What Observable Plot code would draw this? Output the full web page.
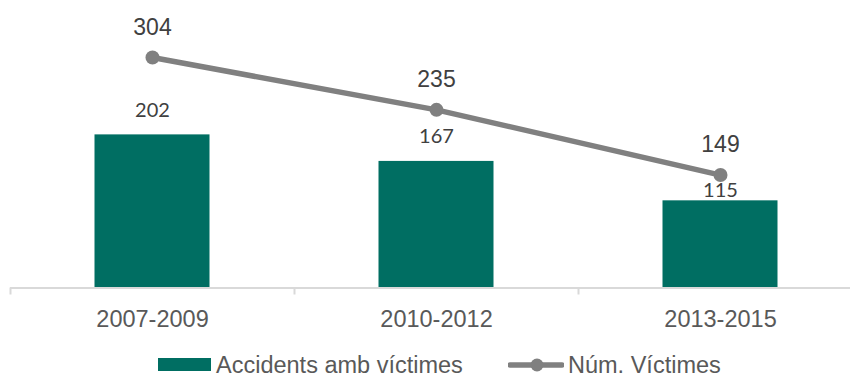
<!DOCTYPE html>
<html>
<head>
<meta charset="utf-8">
<script src="https://cdn.jsdelivr.net/npm/d3@7"></script>
<script src="https://cdn.jsdelivr.net/npm/@observablehq/plot@0.6"></script>
<style>
  html, body { margin: 0; padding: 0; background: white; }
  #wrap { position: relative; width: 850px; height: 378px; overflow: hidden; font-family: "Liberation Sans", Arial, sans-serif; }
  #chart svg { display: block; }
  .lg { position: absolute; }
  .lgtext { font-size: 23.5px; line-height: 20px; height: 20px; color: #595959; white-space: nowrap; }
</style>
</head>
<body>
<div id="wrap">
  <div id="chart"></div>
  <div class="lg" style="left:158px; top:358px; width:53px; height:13px; background:#006E62;"></div>
  <div class="lg lgtext" style="left:216px; top:354.5px;">Accidents amb víctimes</div>
  <svg class="lg" style="left:508px; top:357px;" width="56" height="16">
    <line x1="2" y1="8" x2="54" y2="8" stroke="#808080" stroke-width="5.5" stroke-linecap="round"/>
    <circle cx="29" cy="8" r="6.5" fill="#808080"/>
  </svg>
  <div class="lg lgtext" style="left:568px; top:354.5px;">Núm. Víctimes</div>
</div>
<script>
const categories = ["2007-2009", "2010-2012", "2013-2015"];
const accidents = [202, 167, 115];
const victims = [304, 235, 149];

const data = categories.map((c, i) => ({period: c, accidents: accidents[i], victims: victims[i]}));

const x0 = 10, x1 = 862;
const step = (x1 - x0) / categories.length;
const H = 346, baseY = 287.5;

const chart = Plot.plot({
  width: 850,
  height: H,
  marginLeft: 10,
  marginRight: 0,
  marginTop: 0,
  marginBottom: H - baseY,
  style: {fontFamily: "'Liberation Sans', Arial, sans-serif", fontSize: "23.5px", background: "white", overflow: "visible"},
  x: {type: "band", domain: categories, range: [x0, x1], padding: 0, label: null},
  y: {domain: [0, 350], range: [baseY, 22.2], axis: null},
  marks: [
    Plot.barY(data, {x: "period", y: "accidents", fill: "#006E62", insetLeft: 84.5, insetRight: 84.5}),
    Plot.ruleY([0], {stroke: "#d9d9d9", strokeWidth: 2}),
    Plot.ruleX(categories, {x: d => d, dx: -step / 2, y1: 0, y2: 0, insetBottom: -7, stroke: "#d9d9d9", strokeWidth: 2}),
    Plot.axisX({tickSize: 0, tickPadding: 22, fontSize: 23.5, color: "#595959", label: null}),
    Plot.line(data, {x: "period", y: "victims", stroke: "#808080", strokeWidth: 5.5}),
    Plot.dot(data, {x: "period", y: "victims", r: 7, fill: "#808080"}),
    Plot.text(data, {x: "period", y: "victims", text: d => String(d.victims), lineAnchor: "bottom", dy: -23, fill: "#404040", fontSize: 23}),
    Plot.text(data.filter(d => d.accidents > 150), {x: "period", y: "accidents", text: d => String(d.accidents), lineAnchor: "bottom", dy: -18, fill: "#404040", fontSize: 20, fontFamily: "Lato, 'Open Sans', sans-serif"}),
    Plot.text(data.filter(d => d.accidents <= 150), {x: "period", y: "accidents", text: d => String(d.accidents), lineAnchor: "bottom", dy: -4, fill: "#404040", fontSize: 20, fontFamily: "Lato, 'Open Sans', sans-serif"})
  ]
});
document.getElementById("chart").appendChild(chart);
</script>
</body>
</html>
